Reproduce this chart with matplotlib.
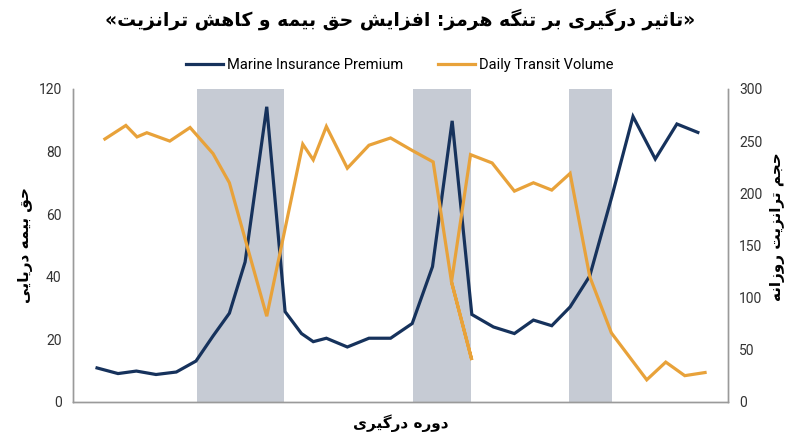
import matplotlib
matplotlib.use("Agg")
import matplotlib.pyplot as plt

# --- data (x = position in the conflict period, 0-100) ---
premium_x = [3.7, 6.9, 9.7, 12.7, 15.8, 18.8, 21.4, 23.9, 26.3, 29.6, 32.4, 34.9,
             36.7, 38.7, 41.9, 45.2, 48.5, 51.8, 54.9, 57.9, 60.9, 64.2, 67.4,
             70.3, 73.1, 75.9, 78.9, 82.3, 85.5, 88.9, 92.2, 95.4]
premium = [10.8, 9.0, 9.8, 8.7, 9.5, 13.0, 21.0, 28.3, 44.7, 94.3, 28.8, 21.8,
           19.2, 20.3, 17.5, 20.3, 20.3, 25.0, 43.2, 89.8, 27.9, 23.9, 21.8,
           26.1, 24.3, 30.3, 40.2, 65.8, 91.2, 77.6, 88.8, 86.1]

transit_x = [4.9, 8.1, 9.8, 11.3, 14.8, 17.9, 21.4, 23.9, 29.6, 35.1, 36.7, 38.7,
             41.9, 45.2, 48.5, 51.8, 55.0, 57.8, 60.9, 57.8, 60.7, 64.0, 67.4,
             70.3, 73.1, 75.9, 78.9, 82.2, 87.6, 90.5, 93.4, 96.5]
transit = [252, 265, 254, 258, 250, 263, 238, 210, 82, 247, 232, 264,
           224, 246, 253, 241, 230, 115, 40, 115, 237, 229, 202,
           210, 203, 219, 120, 66, 21, 38, 25, 28]

# conflict windows (shaded)
conflict_start = [19.0, 51.9, 75.7]
conflict_end = [32.2, 60.8, 82.3]

# left axis labels as printed on the reference (top one reads 120)
premium_ticks = [0, 20, 40, 60, 80, 100]
premium_tick_labels = ["0", "20", "40", "60", "80", "120"]
transit_ticks = [0, 50, 100, 150, 200, 250, 300]

title = "«تاثیر درگیری بر تنگه هرمز: افزایش حق بیمه و کاهش ترانزیت»"
left_label = "حق بیمه دریایی"
right_label = "حجم ترانزیت روزانه"
x_label = "دوره درگیری"

NAVY = "#16325c"
ORANGE = "#e8a23a"
SHADE = "#c6cbd4"
SPINE = "#9a9a9a"

# --- minimal Persian shaping (matplotlib has no RTL / joining support) ---
# letter: (isolated, final, initial, medial); None = does not join forward
FORMS = {
    "\u0627": ("\uFE8D", "\uFE8E", None, None),
    "\u0628": ("\uFE8F", "\uFE90", "\uFE91", "\uFE92"),
    "\u062A": ("\uFE95", "\uFE96", "\uFE97", "\uFE98"),
    "\u062B": ("\uFE99", "\uFE9A", "\uFE9B", "\uFE9C"),
    "\u062C": ("\uFE9D", "\uFE9E", "\uFE9F", "\uFEA0"),
    "\u062D": ("\uFEA1", "\uFEA2", "\uFEA3", "\uFEA4"),
    "\u062F": ("\uFEA9", "\uFEAA", None, None),
    "\u0631": ("\uFEAD", "\uFEAE", None, None),
    "\u0632": ("\uFEAF", "\uFEB0", None, None),
    "\u0634": ("\uFEB5", "\uFEB6", "\uFEB7", "\uFEB8"),
    "\u0641": ("\uFED1", "\uFED2", "\uFED3", "\uFED4"),
    "\u0642": ("\uFED5", "\uFED6", "\uFED7", "\uFED8"),
    "\u0645": ("\uFEE1", "\uFEE2", "\uFEE3", "\uFEE4"),
    "\u0646": ("\uFEE5", "\uFEE6", "\uFEE7", "\uFEE8"),
    "\u0647": ("\uFEE9", "\uFEEA", "\uFEEB", "\uFEEC"),
    "\u0648": ("\uFEED", "\uFEEE", None, None),
    "\u06CC": ("\uFBFC", "\uFBFD", "\uFBFE", "\uFBFF"),
    "\u06A9": ("\uFB8E", "\uFB8F", "\uFB90", "\uFB91"),
    "\u06AF": ("\uFB92", "\uFB93", "\uFB94", "\uFB95"),
}
MIRROR = {"«": "»", "»": "«", "(": ")", ")": "("}


def fa(text):
    out = []
    for i, ch in enumerate(text):
        if ch not in FORMS:
            out.append(ch)
            continue
        prev = text[i - 1] if i > 0 else ""
        nxt = text[i + 1] if i + 1 < len(text) else ""
        join_prev = prev in FORMS and FORMS[prev][2] is not None
        join_next = FORMS[ch][2] is not None and nxt in FORMS
        f = FORMS[ch]
        if join_prev and join_next:
            out.append(f[3])
        elif join_prev:
            out.append(f[1])
        elif join_next:
            out.append(f[2])
        else:
            out.append(f[0])
    return "".join(MIRROR.get(c, c) for c in reversed(out))


plt.rcParams["font.family"] = ["Roboto", "DejaVu Sans"]
FA_FONT = ["DejaVu Sans"]

fig = plt.figure(figsize=(8, 4.47), dpi=100)
ax = fig.add_axes([0.091, 0.1013, 0.819, 0.6997])
ax2 = ax.twinx()

for s, e in zip(conflict_start, conflict_end):
    ax.axvspan(s, e, color=SHADE, lw=0, zorder=0)

l1, = ax.plot(premium_x, premium, color=NAVY, lw=2.3, label="Marine Insurance Premium",
              solid_joinstyle="miter")
l2, = ax2.plot(transit_x, transit, color=ORANGE, lw=2.3, label="Daily Transit Volume",
               solid_joinstyle="miter")

ax.set_xlim(0, 100)
ax.set_ylim(0, 100)
ax2.set_ylim(0, 300)
ax.set_yticks(premium_ticks)
ax.set_yticklabels(premium_tick_labels)
ax2.set_yticks(transit_ticks)
ax.set_xticks([])

for a in (ax, ax2):
    a.spines["top"].set_visible(False)
    for side in ("left", "right", "bottom"):
        a.spines[side].set_color(SPINE)
        a.spines[side].set_linewidth(1.0)
    a.tick_params(axis="y", length=0, labelsize=10, colors="#333333", pad=8)

ax.set_ylabel(fa(left_label), family=FA_FONT, fontweight="bold", fontsize=11)
ax.yaxis.set_label_coords(-0.06, 0.5)
ax2.set_ylabel(fa(right_label), family=FA_FONT, fontweight="bold", fontsize=11, rotation=90,
               va="center")
ax2.yaxis.set_label_coords(1.075, 0.56)
ax.set_xlabel(fa(x_label), family=FA_FONT, fontweight="bold", fontsize=11)
ax.xaxis.set_label_coords(0.5, -0.04)

fig.text(0.5, 0.955, fa(title), family=FA_FONT, fontweight="bold", fontsize=13.5,
         ha="center", va="center")

fig.legend(handles=[l1, l2], loc="center", bbox_to_anchor=(0.5, 0.855), ncol=2,
           frameon=False, fontsize=10.5, handlelength=2.5, columnspacing=2.4,
           handletextpad=0.3)

fig.savefig("out.png", dpi=100)
